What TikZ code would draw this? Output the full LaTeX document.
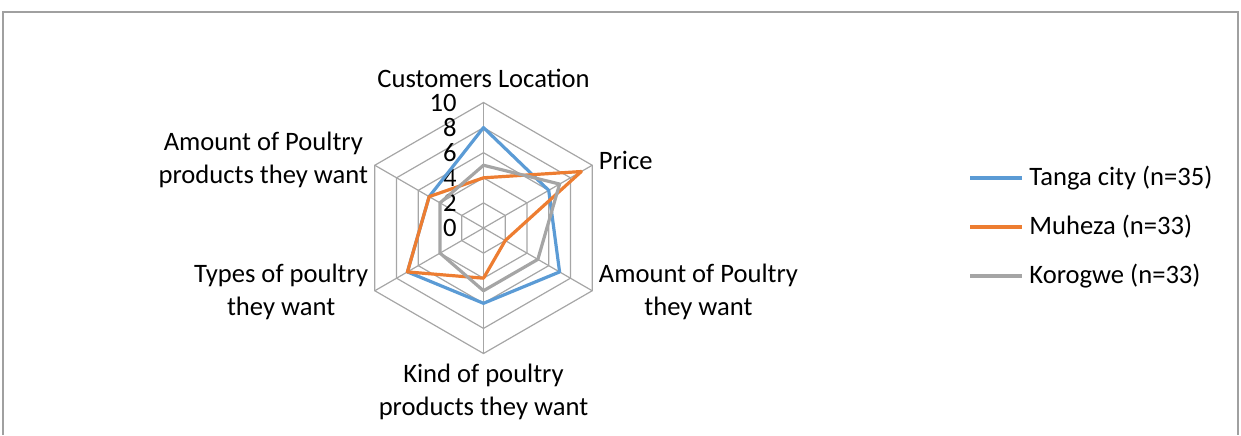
\documentclass[tikz,border=0pt]{standalone}
\usepackage{fontspec}
\setmainfont{Carlito}
\usetikzlibrary{calc, positioning}
\definecolor{tanga}{HTML}{5B9BD5}
\definecolor{muheza}{HTML}{ED7D31}
\definecolor{korogwe}{HTML}{A5A5A5}
\definecolor{gridgray}{HTML}{A6A6A6}
\definecolor{framegray}{HTML}{A0A0A0}
\begin{document}
\begin{tikzpicture}[x=0.5pt, y=0.5pt, font=\fontsize{13.3}{16.5}\selectfont,
	axislabel/.style={align=center, inner sep=0pt},
	series/.style={line width=1.6pt, line join=round}]
	
	\useasboundingbox (0,0) rectangle (1241,435);
	
	% Frame
	\draw[framegray, line width=0.6pt] (3,0) -- (3,423) -- (1238,423) -- (1238,0);
	
	\def\u{12.55}
	\begin{scope}[shift={(483.5,207)}]
		% Grid
		\foreach \r in {2,4,...,10} {
			\draw[gridgray, line width=0.6pt] (90:\r*\u) -- (30:\r*\u) -- (-30:\r*\u) -- (-90:\r*\u) -- (210:\r*\u) -- (150:\r*\u) -- cycle;
		}
		\foreach \a in {90,30,-30,-90,210,150} {
			\draw[gridgray, line width=0.6pt] (0,0) -- (\a:10*\u);
		}
		\foreach \v in {0,2,...,10} {
			\node[anchor=east, inner sep=0pt] (tick\v) at (-26.5,\v*\u) {\v};
		}
		
		% Plots
		\draw[series, tanga] (90:8*\u) -- (30:6*\u) -- (-30:7*\u) -- (-90:6*\u) -- (210:7*\u) -- (150:5*\u) -- cycle;
		\draw[series, muheza] (90:4*\u) -- (30:9*\u) -- (-30:2*\u) -- (-90:4*\u) -- (210:7*\u) -- (150:5*\u) -- cycle;
		\draw[series, korogwe] (90:5*\u) -- (30:7*\u) -- (-30:5*\u) -- (-90:5*\u) -- (210:4*\u) -- (150:4*\u) -- cycle;
		
		% Axis labels
		\node[axislabel] (location) at (0,150) {Customers Location};
		\node[axislabel, anchor=west] (price) at (115,68) {Price};
		\node[axislabel, anchor=west] (amount) at (115,-64) {Amount of Poultry\\they want};
		\node[axislabel] (kind) at (0,-164) {Kind of poultry\\products they want};
		\node[axislabel, anchor=east] (types) at (-115,-64) {Types of poultry\\they want};
		\node[axislabel, anchor=east] (products) at (-115,68) {Amount of Poultry\\products they want};
	\end{scope}
	
	% Legend
	\foreach \n/\col/\txt/\y in {1/tanga/Tanga city (n=35)/257, 2/muheza/Muheza (n=33)/208, 3/korogwe/Korogwe (n=33)/159} {
		\node[anchor=west, inner sep=3.5pt] (leg\n) at (1022,\y) {\txt};
		\coordinate (legstart\n) at (970,\y);
		\draw[series, \col] (legstart\n) -- (leg\n);
	}
\end{tikzpicture}
\end{document}
